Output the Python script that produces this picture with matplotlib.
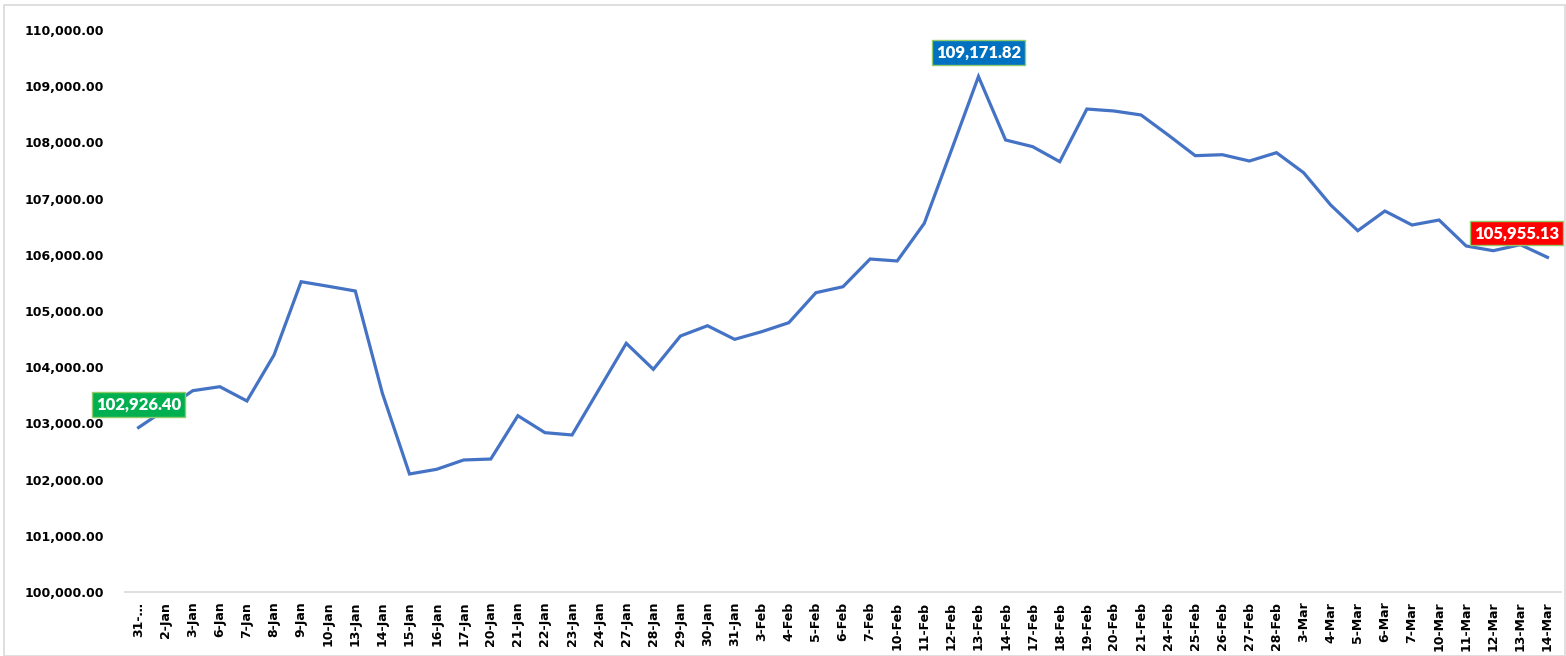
import matplotlib
matplotlib.use('Agg')
import matplotlib.pyplot as plt
from matplotlib.patches import Rectangle
from matplotlib.ticker import FuncFormatter

dates = ['31-…', '2-Jan', '3-Jan', '6-Jan', '7-Jan', '8-Jan', '9-Jan', '10-Jan', '13-Jan',
         '14-Jan', '15-Jan', '16-Jan', '17-Jan', '20-Jan', '21-Jan', '22-Jan', '23-Jan',
         '24-Jan', '27-Jan', '28-Jan', '29-Jan', '30-Jan', '31-Jan', '3-Feb', '4-Feb',
         '5-Feb', '6-Feb', '7-Feb', '10-Feb', '11-Feb', '12-Feb', '13-Feb', '14-Feb',
         '17-Feb', '18-Feb', '19-Feb', '20-Feb', '21-Feb', '24-Feb', '25-Feb', '26-Feb',
         '27-Feb', '28-Feb', '3-Mar', '4-Mar', '5-Mar', '6-Mar', '7-Mar', '10-Mar',
         '11-Mar', '12-Mar', '13-Mar', '14-Mar']

values = [102926.40, 103250, 103582, 103653, 103399, 104217, 105521, 105440, 105356,
          103535, 102100, 102183, 102349, 102366, 103137, 102835, 102794,
          103610, 104425, 103962, 104555, 104738, 104496, 104632, 104792,
          105326, 105432, 105925, 105890, 106560, 107860, 109171.82, 108043,
          107924, 107657, 108594, 108559, 108488, 108132, 107764, 107781,
          107669, 107817, 107461, 106886, 106429, 106779, 106530, 106619,
          106157, 106073, 106180, 105955.13]

# highlighted points: (index, box colour)
highlights = [(0, '#00B050'), (31, '#0070C0'), (len(values) - 1, '#FF0000')]

fig = plt.figure(figsize=(15.66, 6.56), dpi=100)
ax = fig.add_axes([125 / 1566, 64 / 656, 1436 / 1566, 562 / 656])

x = list(range(len(values)))
ax.plot(x, values, color='#4472C4', linewidth=2.3, solid_joinstyle='miter')

ax.set_xlim(-0.5, len(values) - 0.5)
ax.set_ylim(100000, 110000)
ax.set_yticks(range(100000, 110001, 1000))
ax.yaxis.set_major_formatter(FuncFormatter(lambda v, p: f'{v:,.2f}'))
ax.set_xticks(x)
ax.set_xticklabels(dates, rotation=90)

for lab in ax.get_xticklabels() + ax.get_yticklabels():
    lab.set_fontweight('bold')
    lab.set_fontsize(9)
    lab.set_color('#000000')

ax.tick_params(axis='both', length=0)
ax.tick_params(axis='y', pad=15)
ax.tick_params(axis='x', pad=7)
for s in ['top', 'right', 'left']:
    ax.spines[s].set_visible(False)
ax.spines['bottom'].set_color('#D9D9D9')
ax.spines['bottom'].set_linewidth(1.2)

offsets = {0: (0, 23), 31: (0, 24), len(values) - 1: (-31, 24)}
for i, col in highlights:
    ax.annotate(f'{values[i]:,.2f}', xy=(i, values[i]), xytext=offsets[i],
                textcoords='offset pixels', ha='center', va='center',
                fontsize=12, fontweight='heavy', color='white', family='Lato',
                bbox=dict(boxstyle='square,pad=0.25', facecolor=col,
                          edgecolor='#8FCB6A', linewidth=1),
                annotation_clip=False, zorder=5)

# chart border
fig.patches.append(Rectangle((4 / 1566, 0), 1 - 5 / 1566, 1 - 5 / 656,
                             transform=fig.transFigure, fill=False,
                             edgecolor='#D9D9D9', linewidth=1.2))

fig.savefig('out.png', dpi=100)
